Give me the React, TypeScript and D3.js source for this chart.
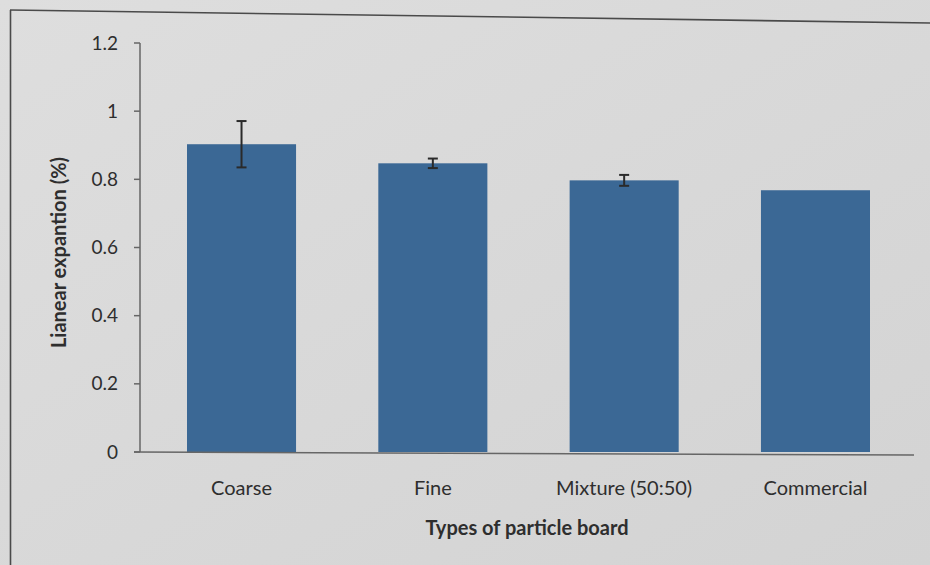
import React from "react";
import * as d3 from "d3";

const categories = ["Coarse", "Fine", "Mixture (50:50)", "Commercial"];
const values = [0.903, 0.847, 0.797, 0.768];
const errors = [0.068, 0.014, 0.016, 0];
const yTicks = [0, 0.2, 0.4, 0.6, 0.8, 1, 1.2];

const W = 930;
const H = 565;
const margin = { left: 140, right: 16, top: 43, bottom: 113 };

export default function App() {
  const x = d3
    .scaleBand<string>()
    .domain(categories)
    .range([margin.left + 3, W - margin.right])
    .paddingInner(0.43)
    .paddingOuter(0.23);
  const y = d3.scaleLinear().domain([0, 1.2]).range([H - margin.bottom, margin.top]);
  const font = "Lato, 'Open Sans', sans-serif";
  const txt = "#2e2e2e";
  const y0 = y(0);

  return (
    <svg
      width={W}
      height={H}
      style={{ position: "absolute", left: 0, top: 0, display: "block" }}
      fontFamily={font}
    >
      <defs>
        <linearGradient id="bg" x1="0" y1="0" x2="1" y2="1">
          <stop offset="0" stopColor="#dedede" />
          <stop offset="1" stopColor="#d3d3d3" />
        </linearGradient>
      </defs>
      <rect x={0} y={0} width={W} height={H} fill="url(#bg)" />
      {/* frame */}
      <line x1={10} y1={10} x2={W} y2={23} stroke="#4a4a4a" strokeWidth={1.6} />
      <line x1={10.5} y1={10} x2={10.5} y2={H} stroke="#4a4a4a" strokeWidth={1.6} />

      {/* bars */}
      {categories.map((c, i) => (
        <rect
          key={c}
          x={x(c)}
          y={y(values[i])}
          width={x.bandwidth()}
          height={y0 - y(values[i])}
          fill="#3b6895"
        />
      ))}

      {/* error bars */}
      {categories.map((c, i) =>
        errors[i] > 0 ? (
          <g key={"e" + c} stroke="#2a2a2a" strokeWidth={2}>
            <line
              x1={x(c)! + x.bandwidth() / 2}
              x2={x(c)! + x.bandwidth() / 2}
              y1={y(values[i] + errors[i])}
              y2={y(values[i] - errors[i])}
            />
            <line
              x1={x(c)! + x.bandwidth() / 2 - 5}
              x2={x(c)! + x.bandwidth() / 2 + 5}
              y1={y(values[i] + errors[i])}
              y2={y(values[i] + errors[i])}
            />
            <line
              x1={x(c)! + x.bandwidth() / 2 - 5}
              x2={x(c)! + x.bandwidth() / 2 + 5}
              y1={y(values[i] - errors[i])}
              y2={y(values[i] - errors[i])}
            />
          </g>
        ) : null
      )}

      {/* y axis */}
      <line x1={margin.left} x2={margin.left} y1={y(1.2)} y2={y0} stroke="#666" strokeWidth={1.5} />
      {yTicks.map((t) => (
        <g key={t}>
          <line x1={margin.left - 6} x2={margin.left} y1={y(t)} y2={y(t)} stroke="#666" strokeWidth={1.5} />
          <text
            x={margin.left - 22}
            y={y(t)}
            dy="0.35em"
            textAnchor="end"
            fontSize={19}
            fill={txt}
          >
            {String(t)}
          </text>
        </g>
      ))}

      {/* x axis */}
      <line x1={margin.left - 6} x2={W - margin.right} y1={y0} y2={y0 + 3} stroke="#666" strokeWidth={1.5} />
      {categories.map((c) => (
        <text
          key={"l" + c}
          x={x(c)! + x.bandwidth() / 2}
          y={y0 + 43}
          textAnchor="middle"
          fontSize={20}
          fill={txt}
        >
          {c}
        </text>
      ))}

      {/* axis titles */}
      <text
        x={(margin.left + W - margin.right) / 2}
        y={535}
        textAnchor="middle"
        fontSize={20}
        fontWeight="bold"
        fill={txt}
      >
        Types of particle board
      </text>
      <text
        transform={`translate(66, ${(y(1.2) + y0) / 2 + 5}) rotate(-90)`}
        textAnchor="middle"
        fontSize={20}
        fontWeight="bold"
        fill={txt}
      >
        Lianear expantion (%)
      </text>
    </svg>
  );
}
